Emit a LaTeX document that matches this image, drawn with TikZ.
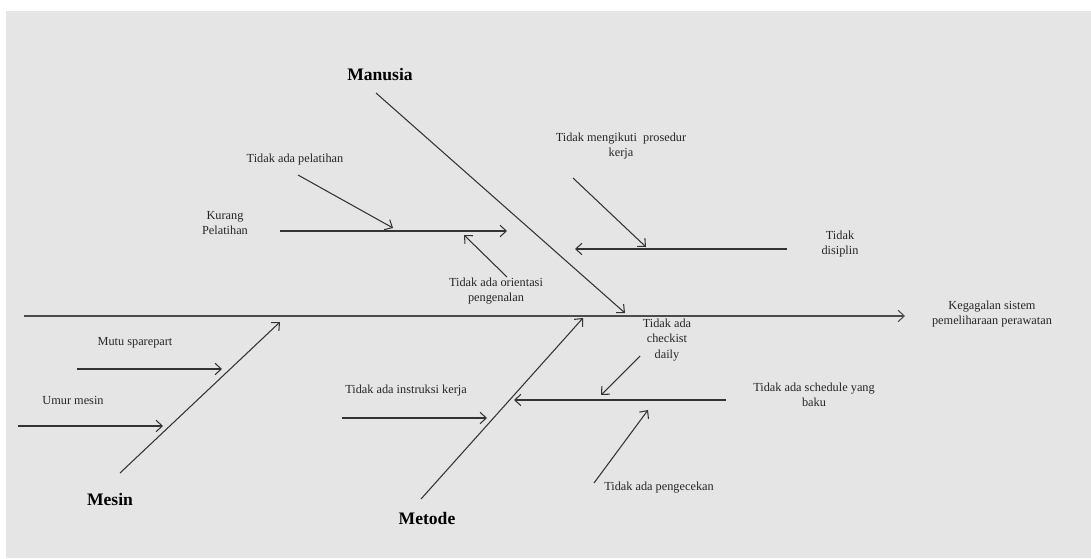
\documentclass[tikz,border=0pt]{standalone}
\usepackage{fontspec}
\setmainfont{Liberation Serif}
\usepackage{xcolor}
\usetikzlibrary{arrows.meta}
\definecolor{latar}{HTML}{E5E5E5}

\begin{document}
\begin{tikzpicture}[x=0.02cm, y=-0.02cm,
  every node/.style={font=\fontsize{7}{8.6}\selectfont, align=center, inner sep=0pt, text=black!85},
  tulang/.style={draw=black!80, line width=0.6pt, -{Straight Barb[length=3.5pt,width=6.5pt]}},
  kategori/.style={font=\fontsize{10}{12}\selectfont\bfseries, text=black}]
\useasboundingbox (0,0) rectangle (1091,558);
\fill[latar] (6,11) rectangle (1091,558);
% kepala ikan
\node (akibat) at (992,314) {Kegagalan sistem\\pemeliharaan perawatan};
\coordinate (s1) at (24,316);
\coordinate (s2) at (905,316);
\draw[tulang, draw=black!70] (s1) -- (s2);
% kategori
\node[kategori] (manusia) at (380,75)  {Manusia};
\node[kategori] (mesin)   at (110,499) {Mesin};
\node[kategori] (metode)  at (427,518) {Metode};
\coordinate (ma1) at (376,93);  \coordinate (ma2) at (625,313);
\coordinate (me1) at (120,473); \coordinate (me2) at (280,322);
\coordinate (mt1) at (421,499); \coordinate (mt2) at (583,318);
\draw[tulang] (ma1) -- (ma2);
\draw[tulang] (me1) -- (me2);
\draw[tulang] (mt1) -- (mt2);
% sebab - manusia
\node (pelatihan) at (295,160) {Tidak ada pelatihan};
\node (kurang)    at (225,223) {Kurang\\Pelatihan};
\node (orientasi) at (496,291) {Tidak ada orientasi\\pengenalan};
\node (prosedur)  at (621,146) {Tidak mengikuti\ \ prosedur\\kerja};
\node (disiplin)  at (840,244) {Tidak\\disiplin};
\coordinate (p1) at (298,175); \coordinate (p2) at (393,228);
\coordinate (k1) at (280,231); \coordinate (k2) at (507,231);
\coordinate (o1) at (507,277); \coordinate (o2) at (464,235);
\coordinate (r1) at (573,178); \coordinate (r2) at (646,247);
\coordinate (d1) at (787,249); \coordinate (d2) at (575,249);
\draw[tulang] (p1) -- (p2);
\draw[tulang] (k1) -- (k2);
\draw[tulang] (o1) -- (o2);
\draw[tulang] (r1) -- (r2);
\draw[tulang] (d1) -- (d2);
% sebab - mesin
\node (mutu) at (135,343) {Mutu sparepart};
\node (umur) at (73,400)  {Umur mesin};
\coordinate (u1) at (77,369); \coordinate (u2) at (222,369);
\coordinate (n1) at (18,426); \coordinate (n2) at (163,426);
\draw[tulang] (u1) -- (u2);
\draw[tulang] (n1) -- (n2);
% sebab - metode
\node (instruksi)  at (406,391) {Tidak ada instruksi kerja};
\node (checklist)  at (667,340) {Tidak ada\\checkist\\daily};
\node (schedule)   at (814,395) {Tidak ada schedule yang\\baku};
\node (pengecekan) at (659,488) {Tidak ada pengecekan};
\coordinate (i1) at (342,418); \coordinate (i2) at (487,418);
\coordinate (c1) at (640,356); \coordinate (c2) at (601,395);
\coordinate (h1) at (726,400); \coordinate (h2) at (514,400);
\coordinate (g1) at (594,483); \coordinate (g2) at (648,410);
\draw[tulang] (i1) -- (i2);
\draw[tulang] (c1) -- (c2);
\draw[tulang] (h1) -- (h2);
\draw[tulang] (g1) -- (g2);
\end{tikzpicture}
\end{document}
